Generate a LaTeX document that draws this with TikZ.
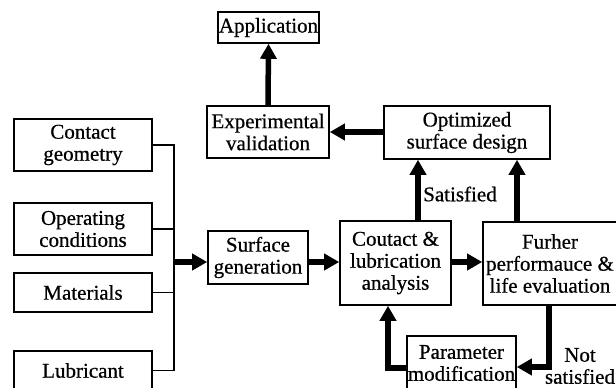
\documentclass[tikz,border=0pt]{standalone}
\usepackage{fontspec}
\setmainfont{Liberation Serif}[FakeBold=0.6]
\usetikzlibrary{arrows.meta,calc}
\begin{document}
\begin{tikzpicture}[x=1pt,y=-1pt,
  box/.style={draw,line width=1.6pt,inner sep=0pt,align=center,
    font=\fontsize{21}{22}\selectfont},
  lbl/.style={inner sep=0pt,align=center,font=\fontsize{21}{22}\selectfont},
  thinl/.style={line width=1.8pt},
  arr/.style={line width=5.5pt,-{Triangle[length=15pt,width=16pt]}}]
\useasboundingbox (0,0) rectangle (616,388);
\node[box,minimum width=101pt,minimum height=31pt] (app) at (268.5,27.5) {Application};
\node[box,minimum width=122pt,minimum height=52pt] (exp) at (268,132) {Experimental\\validation};
\node[box,minimum width=166pt,minimum height=53pt] (opt) at (467,132.5) {Optimized\\surface design};
\node[box,minimum width=138pt,minimum height=52pt] (cg) at (83,145) {Contact\\geometry};
\node[box,minimum width=138pt,minimum height=52pt] (oc) at (83,229) {Operating\\conditions};
\node[box,minimum width=138pt,minimum height=39pt] (mat) at (83,292.5) {Materials};
\node[box,minimum width=138pt,minimum height=39pt] (lub) at (83,370.5) {Lubricant};
\node[box,minimum width=100pt,minimum height=53pt] (sg) at (258,257.5) {Surface\\generation};
\node[box,minimum width=111pt,minimum height=84pt] (ca) at (395.5,263) {Coutact \&\\lubrication\\analysis};
\node[box,minimum width=134pt,minimum height=83pt] (fp) at (550,263.5) {Furher\\performauce \&\\life evaluation};
\node[box,minimum width=109pt,minimum height=54pt] (pm) at (461.5,363) {Parameter\\modification};
\node[lbl] (sat) at (460,194) {Satisfied};
\node[lbl] (nsat) at (580,366) {Not\\satisfied};
\coordinate (bus) at (174,262);
\coordinate (s1) at (418,0);
\coordinate (s2) at (517,0);
% inputs to bus
\draw[thinl] (cg.east) -| (bus);
\draw[thinl] (lub.east) -| (bus);
\draw[thinl] (oc.east) -- (oc.east -| bus);
\draw[thinl] (mat.east) -- (mat.east -| bus);
% main flow
\draw[arr] (bus) -- (bus -| sg.west);
\draw[arr] (bus -| sg.east) -- (bus -| ca.west);
\draw[arr] (bus -| ca.east) -- (bus -| fp.west);
\draw[arr] (ca.north -| s1) -- (opt.south -| s1);
\draw[arr] (fp.north -| s2) -- (opt.south -| s2);
\draw[arr] (opt.west |- exp.east) -- (exp.east);
\draw[arr] (exp.north) -- (app.south);
\draw[arr] ($(fp.south)+(-1,0)$) |- ($(pm.east)+(0,4)$);
\draw[arr] ($(pm.west)+(0,5)$) -| ($(ca.south)+(-7.5,0)$);
\end{tikzpicture}
\end{document}
